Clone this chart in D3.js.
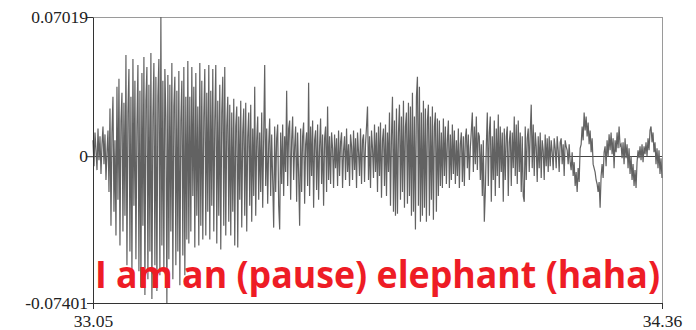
<!DOCTYPE html>
<html>
<head>
<meta charset="utf-8">
<script src="https://cdn.jsdelivr.net/npm/d3@7"></script>
<style>
  html, body { margin: 0; padding: 0; background: #fff; }
  svg { display: block; }
</style>
</head>
<body>
<svg id="chart" width="696" height="330"></svg>
<script>
// Time span (seconds) and amplitude tick labels
const timeStart = 33.05;
const timeEnd = 34.36;
const yTickValues = [0.07019, 0, -0.07401];
const xTickValues = [33.05, 34.36];
const caption = "I am an (pause) elephant (haha)";

// Waveform samples (evenly spaced over the time span)
const samples = [
  .008,-.005,.012,.003,-.007,.014,-.002,.010,
  -.009,.006,.015,-.004,.011,-.012,.002,.013,
  -.018,.024,-.035,.012,.030,-.028,.008,
  -.040,.035,-.022,.039,-.045,.018,.032,-.038,.027,-.030,
  .051,-.055,.022,.044,-.048,.030,-.060,.049,-.025,.038,-.052,.015,.046,-.058,.033,
  -.066,.042,-.035,.050,-.070,.028,.045,-.062,.036,-.048,.052,-.072,.020,.047,-.055,.040,-.068,.030,.049,-.060,
  .07019,-.045,.038,-.058,.044,.020,-.07401,.041,-.052,.036,-.038,.047,-.062,.025,.040,-.055,.033,-.048,.043,-.065,.018,.038,-.050,.045,-.060,.030,-.042,
  .048,-.044,.030,-.038,.045,-.020,.035,-.046,.042,-.030,.025,-.045,.047,-.035,.038,-.042,.020,.044,-.040,.032,-.028,.046,
  -.042,.033,-.025,.044,-.038,.018,.046,-.044,.028,-.030,.036,-.047,.022,.040,-.035,.045,-.040,.015,.030,-.033,
  .026,-.040,.022,-.028,.029,-.045,.015,.025,-.046,.020,-.022,.028,-.036,.012,.024,-.030,.027,-.038,.010,.022,-.025,.026,-.033,.014,-.020,
  .035,-.030,.008,.020,-.022,.012,-.018,.022,-.026,.010,.046,-.015,.014,-.024,.006,.019,-.020,.011,-.012,-.036,.015,-.018,.009,.016,-.025,-.037,.012,-.014,
  .016,-.020,.010,-.008,.033,-.015,.014,.018,-.022,.008,.020,-.012,.005,.015,-.023,.012,-.010,
  -.035,.014,-.018,.010,.017,-.024,.006,.012,-.015,.037,-.020,.015,-.010,.018,-.026,.008,.013,-.017,.016,-.022,.005,.019,-.014,.011,-.025,.009,.015,-.018,.025,-.012,
  .010,-.014,.012,.004,-.016,.011,-.006,.009,-.015,.013,-.010,.007,.012,-.016,.003,.010,-.012,.014,-.008,.006,
  -.015,.011,.005,-.012,.013,-.007,.009,-.016,.012,.002,-.010,.014,-.014,.008,.011,-.013,.006,.015,.025,-.012,.010,-.016,.013,.004,-.011,.016,-.008,.012,
  -.018,.015,-.010,.017,-.021,.008,.014,-.015,.016,-.020,.012,-.008,
  .022,-.025,.010,.030,-.028,.018,-.030,.024,-.029,.012,.026,-.022,.020,-.018,.028,-.026,.015,.022,-.024,.027,
  -.020,.025,-.030,.032,-.028,.020,-.037,.030,.040,-.025,.035,-.033,.022,-.030,.028,
  -.026,.024,-.033,.018,.026,-.030,.020,-.022,.025,-.032,.015,.022,-.028,.019,-.020,
  .018,-.015,.012,-.016,.019,-.010,.015,-.014,.008,.018,-.016,.011,-.012,.016,-.009,
  .013,-.014,.008,-.010,.014,-.016,.006,.012,-.013,.010,-.015,.009,.014,-.006,.011,-.012,.004,.013,
  .022,-.008,.015,-.004,.020,-.007,.012,
  .010,-.012,.006,-.020,.008,-.033,-.018,.005,
  .022,-.015,.012,.020,-.023,.010,-.012,.018,-.020,.014,-.010,.021,
  -.016,.015,-.008,.012,-.023,.014,-.012,.010,.015,-.020,.007,.013,-.015,.012,-.006,
  .020,-.010,.016,-.014,.018,-.008,.012,-.018,.010,-.020,-.023,.015,-.012,.009,.014,
  -.008,.012,.026,-.006,.016,
  -.010,.012,.005,-.013,.010,-.006,.012,-.011,.008,.003,-.012,.011,-.005,.009,-.008,
  .010,-.005,.008,.002,-.007,.009,.004,-.006,.010,.003,-.008,.007,.009,-.004,.006,-.010,.008,.005,
  .003,-.004,.006,-.003,-.007,.002,-.010,-.003,-.015,-.008,-.018,-.006,-.013,.004,.006,.015,.008,.022,.013,.020,
  .010,.017,.006,.013,.002,.009,-.004,-.006,-.008,-.012,-.014,-.018,-.013,-.026,-.010,-.004,-.011,.002,.005,-.005,
  .008,.000,.011,.003,.012,.001,.009,-.006,.008,.002,.012,.004,.015,.005,.006,-.001,.007,-.004,.009,-.001,
  .006,-.006,.004,-.009,.000,-.012,-.004,-.015,-.007,-.016,-.003,.003,-.001,.005,-.002,.006,-.003,.005,.001,.007,
  .000,.009,.003,.013,.015,.007,.012,.002,.007,-.004,.004,-.006,.003,-.009,-.001,-.011
];

const svg = d3.select("#chart");
const margin = { left: 93, right: 34, top: 17, bottom: 27 };
const W = 696, H = 330;
const x0 = margin.left, x1 = W - margin.right;
const y0 = margin.top, y1 = H - margin.bottom;

const xIndex = d3.scaleLinear().domain([0, samples.length - 1]).range([x0, x1]);
const xTime = d3.scaleLinear().domain([timeStart, timeEnd]).range([x0, x1]);
const y = d3.scaleLinear().domain(d3.extent(samples)).range([y1, y0]);

// frame (top & right)
svg.append("rect")
  .attr("x", x0).attr("y", y0)
  .attr("width", x1 - x0).attr("height", y1 - y0)
  .attr("fill", "none").attr("stroke", "#9a9a9a").attr("stroke-width", 1)
  .attr("shape-rendering", "crispEdges");

// zero line
svg.append("line")
  .attr("x1", x0).attr("x2", x1)
  .attr("y1", Math.round(y(0)) + 0.5).attr("y2", Math.round(y(0)) + 0.5)
  .attr("stroke", "#444").attr("stroke-width", 1);

// waveform
const line = d3.line().x((d, i) => xIndex(i)).y(d => y(d));
svg.append("path")
  .datum(samples)
  .attr("d", line)
  .attr("fill", "none")
  .attr("stroke", "#626262")
  .attr("stroke-width", 1.2)
  .attr("stroke-linejoin", "miter");

// axes
const yAxis = d3.axisLeft(y).tickValues(yTickValues)
  .tickFormat(d => d === 0 ? "0" : String(d)).tickSize(6).tickSizeOuter(0);
const gy = svg.append("g").attr("transform", `translate(${x0},0)`).call(yAxis);
const xAxis = d3.axisBottom(xTime).tickValues(xTickValues)
  .tickFormat(d3.format(".2f")).tickSize(6).tickSizeOuter(0);
const gx = svg.append("g").attr("transform", `translate(0,${y1})`).call(xAxis);

[gy, gx].forEach(g => {
  g.select(".domain").attr("stroke", "#333");
  g.selectAll(".tick line").attr("stroke", "#333");
  g.selectAll(".tick text")
    .attr("fill", "#222")
    .style("font-family", "'Liberation Serif', 'Times New Roman', serif")
    .style("font-size", "17.5px");
});
gy.selectAll(".tick text").attr("x", -5).attr("dy", "0.32em");
gx.selectAll(".tick text").attr("y", 24).attr("dy", "0");

// caption
const cap = svg.append("text")
  .attr("x", 95).attr("y", 288)
  .attr("fill", "#ee1c25")
  .style("font-family", "'Open Sans', 'Noto Sans', sans-serif")
  .style("font-weight", "700")
  .style("font-size", "37px")
  .text(caption);
cap.attr("textLength", 565).attr("lengthAdjust", "spacingAndGlyphs");
</script>
</body>
</html>
